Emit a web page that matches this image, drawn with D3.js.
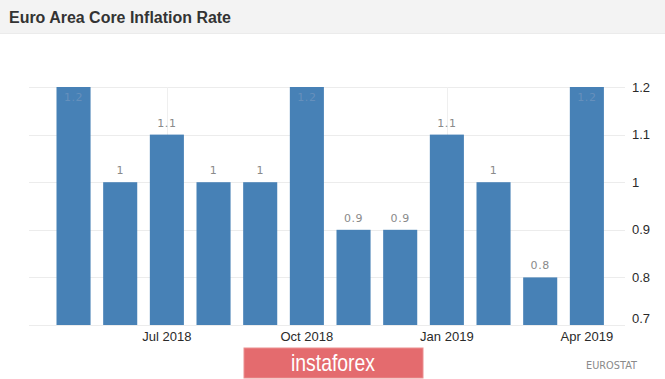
<!DOCTYPE html>
<html>
<head>
<meta charset="utf-8">
<script src="https://cdn.jsdelivr.net/npm/d3@7"></script>
<style>
  html, body { margin: 0; padding: 0; background: #fff; }
  svg { display: block; }
</style>
</head>
<body>
<svg id="chart" width="665" height="379"></svg>
<script>
const months = ["May 2018","Jun 2018","Jul 2018","Aug 2018","Sep 2018","Oct 2018",
                "Nov 2018","Dec 2018","Jan 2019","Feb 2019","Mar 2019","Apr 2019"];
const values = [1.2, 1, 1.1, 1, 1, 1.2, 0.9, 0.9, 1.1, 1, 0.8, 1.2];
const yTicks = [0.7, 0.8, 0.9, 1, 1.1, 1.2];
const xTickMonths = ["Jul 2018","Oct 2018","Jan 2019","Apr 2019"];
const title = "Euro Area Core Inflation Rate";
const source = "EUROSTAT";
const watermark = "instaforex";

const svg = d3.select("#chart");
const W = 665, H = 379;

// title bar
svg.append("rect").attr("x",0).attr("y",0).attr("width",W).attr("height",33).attr("fill","#f3f3f3");
svg.append("line").attr("x1",0).attr("x2",W).attr("y1",33.5).attr("y2",33.5).attr("stroke","#ebebeb");
svg.append("text").attr("x",9).attr("y",23)
  .attr("font-family","Liberation Sans, Arial, sans-serif").attr("font-weight","bold")
  .attr("font-size",16).attr("fill","#333")
  .attr("textLength",222).attr("lengthAdjust","spacingAndGlyphs")
  .text(title);

const x = d3.scaleBand().domain(months).range([50.2, 610.2]).paddingInner(0.27).paddingOuter(0.135);
const y = d3.scaleLinear().domain([0.7, 1.2]).range([325, 87]);

// horizontal gridlines
svg.append("g").selectAll("line").data(yTicks).join("line")
  .attr("x1",29).attr("x2",625)
  .attr("y1",d=>Math.round(y(d))+0.5).attr("y2",d=>Math.round(y(d))+0.5)
  .attr("stroke","#ececec");

// vertical gridlines
svg.append("g").selectAll("line").data(xTickMonths).join("line")
  .attr("x1",d=>Math.round(x(d)+x.bandwidth()/2)+0.5).attr("x2",d=>Math.round(x(d)+x.bandwidth()/2)+0.5)
  .attr("y1",y(1.2)).attr("y2",y(0.7))
  .attr("stroke","#efefef");

// bars
svg.append("g").selectAll("rect").data(values).join("rect")
  .attr("x",(d,i)=>x(months[i]))
  .attr("width",x.bandwidth())
  .attr("y",d=>y(d))
  .attr("height",d=>y(0.7)-y(d))
  .attr("fill","#4781b6");

// value labels
const ymax = d3.max(yTicks);
svg.append("g").selectAll("text").data(values).join("text")
  .attr("x",(d,i)=>x(months[i])+x.bandwidth()/2)
  .attr("y",d=> d>=ymax ? y(d)+14 : y(d)-8)
  .attr("text-anchor","middle")
  .attr("font-family","DejaVu Sans, sans-serif").attr("font-size",11)
  .attr("letter-spacing",0.6)
  .attr("fill",d=> d>=ymax ? "#6690bc" : "#8a8a8a")
  .text(d=>d);

// x axis
const xAxis = svg.append("g").attr("transform",`translate(0,${y(0.7)})`)
  .call(d3.axisBottom(x).tickValues(xTickMonths).tickSize(0).tickPadding(7));
xAxis.select(".domain").remove();
xAxis.selectAll("text").attr("font-family","Liberation Sans Narrow, Arial Narrow, sans-serif")
  .attr("font-size",13).attr("fill","#2a2a2a");

// y axis (right)
const yAxis = svg.append("g").attr("transform",`translate(632,0)`)
  .call(d3.axisRight(y).tickValues(yTicks).tickFormat(d3.format("")).tickSize(0).tickPadding(0));
yAxis.select(".domain").remove();
yAxis.selectAll("text").attr("font-family","Liberation Sans Narrow, Arial Narrow, sans-serif")
  .attr("font-size",13).attr("fill","#2a2a2a")
  .attr("dy",d=> d===d3.min(yTicks) ? "-0.2em" : "0.32em");

// source
svg.append("text").attr("x",637).attr("y",369).attr("text-anchor","end")
  .attr("font-family","DejaVu Sans, sans-serif").attr("font-size",10).attr("fill","#8a8a8a")
  .attr("textLength",51).attr("lengthAdjust","spacingAndGlyphs")
  .text(source);

// watermark
svg.append("rect").attr("x",244).attr("y",348).attr("width",179).attr("height",30)
  .attr("fill","#e46b6e").attr("stroke","#eb8f90").attr("stroke-width",1);
svg.append("text").attr("x",333).attr("y",371).attr("text-anchor","middle")
  .attr("font-family","Liberation Sans Narrow, Arial Narrow, sans-serif").attr("font-size",24)
  .attr("fill","#fff").attr("textLength",84).attr("lengthAdjust","spacingAndGlyphs")
  .text(watermark);
</script>
</body>
</html>
